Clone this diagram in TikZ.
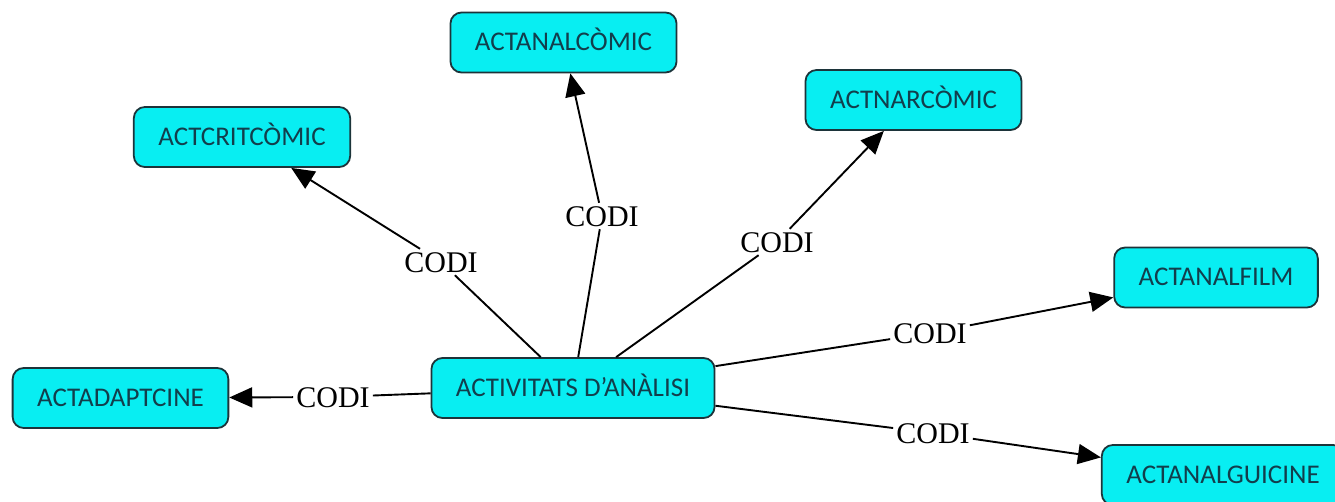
\documentclass[tikz,border=0pt]{standalone}
\usepackage{fontspec}
\setmainfont{Carlito}
\newfontfamily\linkfont{Liberation Serif}
\usetikzlibrary{arrows.meta}
\definecolor{conceptfill}{RGB}{8,238,242}
\definecolor{conceptedge}{RGB}{28,52,58}
\definecolor{concepttext}{RGB}{18,62,76}
\begin{document}
\begin{tikzpicture}[x=1pt,y=-1pt,
  concept/.style={draw=conceptedge, line width=1.8pt, fill=conceptfill,
    rounded corners=11pt, inner xsep=24.5pt, inner ysep=0pt,
    minimum height=60pt, text=concepttext,
    font=\fontsize{27}{27}\selectfont, text height=17.5pt, text depth=1pt},
  linkname/.style={font=\linkfont\fontsize{30}{30}\selectfont, inner sep=3pt,
    text height=20pt, text depth=0pt},
  link/.style={draw=black, line width=1.9pt},
  linkarrow/.style={link, -{Triangle[length=23pt,width=20pt]}}]
\useasboundingbox (0,0) rectangle (1335,501);

% concepts
\node[concept] (center) at (573,388) {ACTIVITATS D’ANÀLISI};
\node[concept] (analcomic) at (563.5,42.5) {ACTANALCÒMIC};
\node[concept] (critcomic) at (242,137) {ACTCRITCÒMIC};
\node[concept] (narcomic) at (913.5,100) {ACTNARCÒMIC};
\node[concept] (analfilm) at (1216,277.5) {ACTANALFILM};
\node[concept] (adaptcine) at (120.5,398) {ACTADAPTCINE};
\node[concept] (analguicine) at (1223,475) {ACTANALGUICINE};

% linking phrases
\node[linkname] (lcrit) at (441,262) {CODI};
\node[linkname] (lanal) at (602,216) {CODI};
\node[linkname] (lnar) at (777,242) {CODI};
\node[linkname] (lfilm) at (930,333) {CODI};
\node[linkname] (ladapt) at (333,397) {CODI};
\node[linkname] (lgui) at (933,433) {CODI};

% connections: concept -> phrase -> concept
\draw[link] (center) -- (lcrit);
\draw[linkarrow] (lcrit) -- (critcomic);
\draw[link] (center) -- (lanal);
\draw[linkarrow] (lanal) -- (analcomic);
\draw[link] (center) -- (lnar);
\draw[linkarrow] (lnar) -- (narcomic);
\draw[link] (center) -- (lfilm);
\draw[linkarrow] (lfilm) -- (analfilm);
\draw[link] (center) -- (ladapt);
\draw[linkarrow] (ladapt) -- (adaptcine);
\draw[link] (center) -- (lgui);
\draw[linkarrow] (lgui) -- (analguicine);
\end{tikzpicture}
\end{document}
